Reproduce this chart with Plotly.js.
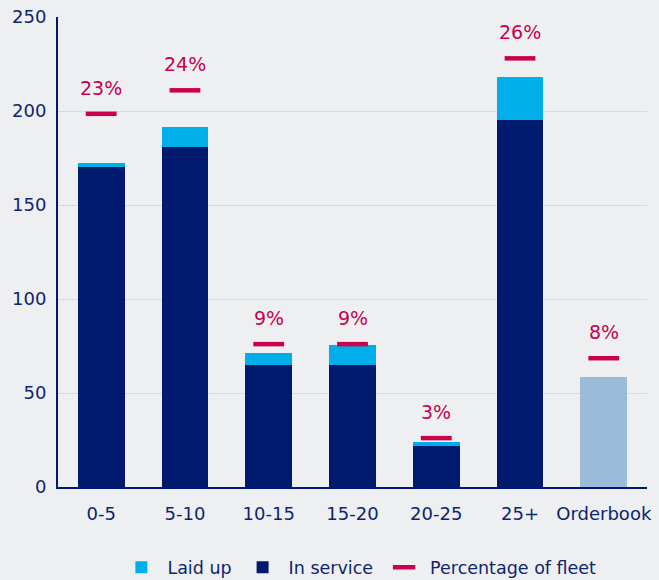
<!DOCTYPE html>
<html>
<head>
<meta charset="utf-8">
<script src="https://cdn.plot.ly/plotly-3.0.1.min.js"></script>
<style>html,body{margin:0;padding:0;background:#eeeff1;}#chart{width:659px;height:580px;}</style>
</head>
<body>
<div id="chart"></div>
<script>
var categories = ['0-5', '5-10', '10-15', '15-20', '20-25', '25+', 'Orderbook'];
var inService = [170, 181, 65, 65, 22, 195, 58.5];
var laidUp = [2.5, 10.5, 6.5, 10.5, 2, 23, 0];
var fleetShare = [198.5, 211, 76, 76, 26, 228, 68.5];
var fleetShareLabels = ['23%', '24%', '9%', '9%', '3%', '26%', '8%'];
var yTicks = [0, 50, 100, 150, 200, 250];

var navy = '#001a6e';
var textNavy = '#0d2471';
var cyan = '#00afe9';
var lightBlue = '#9bbbd9';
var crimson = '#c8004e';
var font = '"DejaVu Sans", Verdana, sans-serif';

var serviceColors = categories.map(function (c) { return c === 'Orderbook' ? lightBlue : navy; });

var traces = [
  {type: 'bar', name: 'In service', x: categories, y: inService,
   marker: {color: serviceColors}, legendrank: 2, hoverinfo: 'skip'},
  {type: 'bar', name: 'Laid up', x: categories, y: laidUp,
   marker: {color: cyan}, legendrank: 1, hoverinfo: 'skip'},
  {type: 'scatter', mode: 'markers', name: 'Percentage of fleet', x: categories, y: fleetShare,
   marker: {symbol: 'line-ew', size: 22, line: {color: crimson, width: 4.5}, color: crimson},
   legendrank: 3, hoverinfo: 'skip'}
];

var annotations = categories.map(function (c, i) {
  return {x: c, y: fleetShare[i], text: fleetShareLabels[i], showarrow: false,
          yshift: 26, yanchor: 'middle', xanchor: 'center',
          font: {family: font, size: 19, color: crimson}};
});

var layout = {
  width: 659, height: 580,
  paper_bgcolor: '#eeeff1', plot_bgcolor: '#eeeff1',
  margin: {l: 58, r: 12, t: 17, b: 93, autoexpand: false},
  barmode: 'stack', bargap: 0.44,
  showlegend: true,
  legend: {orientation: 'h', x: 0.51, xanchor: 'center', y: -0.171, yanchor: 'middle',
           font: {family: font, size: 17.5, color: textNavy}, bgcolor: 'rgba(0,0,0,0)',
           traceorder: 'normal', itemwidth: 42},
  hovermode: false,
  font: {family: font, size: 18, color: textNavy},
  xaxis: {type: 'category', showgrid: false, showline: true, linecolor: navy, linewidth: 2,
          tickfont: {family: font, size: 18, color: textNavy}, ticks: 'outside', ticklen: 9, tickcolor: 'rgba(0,0,0,0)'},
  yaxis: {range: [0, 250], tickvals: yTicks, showgrid: true, gridcolor: '#d8d9dd', gridwidth: 1,
          zeroline: false, showline: true, linecolor: navy, linewidth: 2,
          tickfont: {family: font, size: 18, color: textNavy}, ticks: 'outside', ticklen: 6, tickcolor: 'rgba(0,0,0,0)'},
  annotations: annotations
};

Plotly.newPlot('chart', traces, layout, {displayModeBar: false, staticPlot: true});
</script>
</body>
</html>
